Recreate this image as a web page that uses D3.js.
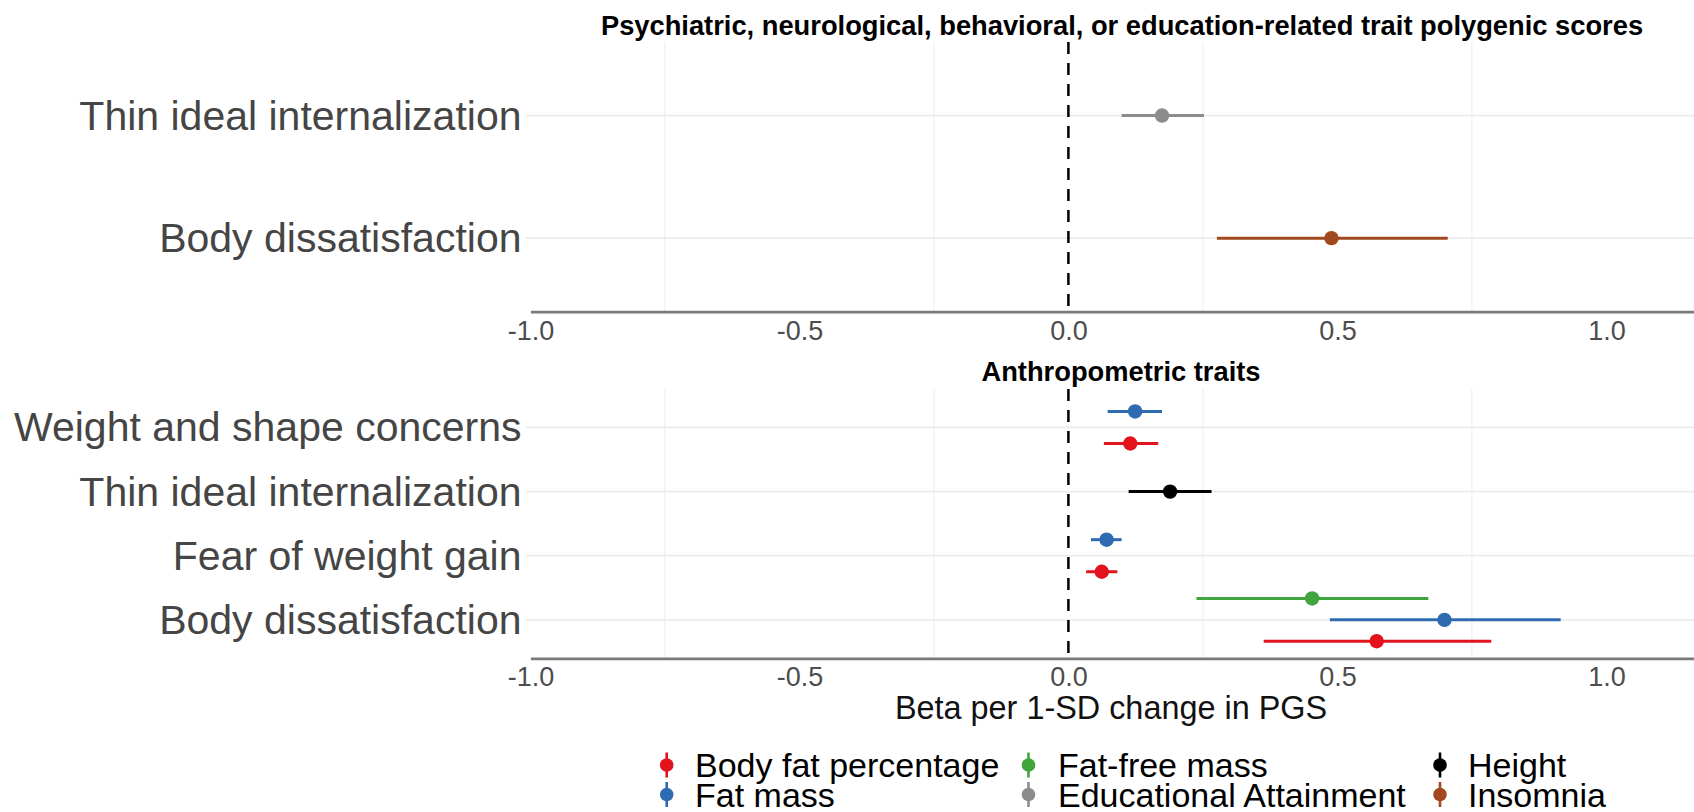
<!DOCTYPE html>
<html>
<head>
<meta charset="utf-8">
<script src="https://cdn.jsdelivr.net/npm/d3@7"></script>
<style>
  html, body { margin: 0; padding: 0; background: #ffffff; }
  svg { display: block; font-family: "Liberation Sans", Arial, Helvetica, sans-serif; }
</style>
</head>
<body>
<svg id="chart" width="1694" height="812"></svg>
<script>
// ---------------- data ----------------
const panelTitles = [
  "Psychiatric, neurological, behavioral, or education-related trait polygenic scores",
  "Anthropometric traits"
];
const topCategories = ["Thin ideal internalization", "Body dissatisfaction"];
const bottomCategories = ["Weight and shape concerns", "Thin ideal internalization", "Fear of weight gain", "Body dissatisfaction"];
const seriesNames = ["Body fat percentage", "Fat mass", "Fat-free mass", "Educational Attainment", "Height", "Insomnia"];
const seriesColors = ["#E3131E", "#2E6BB0", "#3FA53C", "#8C8C8C", "#000000", "#A0491F"];
const xTicks = [-1.0, -0.5, 0.0, 0.5, 1.0];
const xMinorTicks = [-0.75, -0.25, 0.25, 0.75];

// one entry per estimate
const estPanel   = [0, 0, 1, 1, 1, 1, 1, 1, 1, 1];
const estOutcome = ["Thin ideal internalization", "Body dissatisfaction",
                    "Weight and shape concerns", "Weight and shape concerns",
                    "Thin ideal internalization",
                    "Fear of weight gain", "Fear of weight gain",
                    "Body dissatisfaction", "Body dissatisfaction", "Body dissatisfaction"];
const estSeries  = ["Educational Attainment", "Insomnia",
                    "Fat mass", "Body fat percentage",
                    "Height",
                    "Fat mass", "Body fat percentage",
                    "Fat-free mass", "Fat mass", "Body fat percentage"];
const estBeta    = [0.174, 0.489, 0.124, 0.115, 0.189, 0.071, 0.062, 0.453, 0.699, 0.573];
const estLow     = [0.099, 0.276, 0.073, 0.066, 0.112, 0.042, 0.033, 0.238, 0.486, 0.363];
const estHigh    = [0.252, 0.705, 0.174, 0.167, 0.266, 0.099, 0.091, 0.669, 0.915, 0.786];

// ---------------- layout ----------------
const svg = d3.select("#chart");
const xDomain = [-1.0, 1.2];
const x = d3.scaleLinear().domain(xDomain).range([530.4, 1714.0]);
const color = d3.scaleOrdinal().domain(seriesNames).range(seriesColors);

const panels = [
  { title: panelTitles[0], cats: topCategories, top: 42, bottom: 311.7, titleY: 25, titleX: 1122 },
  { title: panelTitles[1], cats: bottomCategories, top: 389, bottom: 658.3, titleY: 371, titleX: 1121 }
];

const rows = estBeta.map((b, i) => ({
  panel: estPanel[i], outcome: estOutcome[i], series: estSeries[i],
  beta: b, low: estLow[i], high: estHigh[i]
}));

panels.forEach((p, pi) => {
  const y = d3.scalePoint().domain(p.cats).range([p.top, p.bottom]).padding(0.6);
  const step = y.step();
  const g = svg.append("g");

  // minor vertical grid
  g.selectAll("line.vminor").data(xMinorTicks).join("line")
    .attr("x1", d => x(d)).attr("x2", d => x(d))
    .attr("y1", p.top).attr("y2", p.bottom)
    .attr("stroke", "#ededed").attr("stroke-width", 1);

  // horizontal grid at categories
  g.selectAll("line.hgrid").data(p.cats).join("line")
    .attr("x1", 526).attr("x2", 1694)
    .attr("y1", d => y(d)).attr("y2", d => y(d))
    .attr("stroke", "#ebebeb").attr("stroke-width", 1.8);

  // category labels
  g.selectAll("text.cat").data(p.cats).join("text")
    .attr("x", 521.5).attr("y", d => y(d))
    .attr("text-anchor", "end").attr("dominant-baseline", "central")
    .attr("font-size", 41).attr("fill", "#454545")
    .text(d => d);

  // zero reference line
  g.append("line")
    .attr("x1", x(0)).attr("x2", x(0))
    .attr("y1", p.top).attr("y2", p.bottom)
    .attr("stroke", "#000").attr("stroke-width", 2.5)
    .attr("stroke-dasharray", "12,9");

  // x axis
  const axis = d3.axisBottom(x).tickValues(xTicks).tickSize(0).tickSizeOuter(0)
    .tickPadding(9).tickFormat(d => d.toFixed(1));
  const ag = g.append("g").attr("transform", `translate(0,${p.bottom})`).call(axis);
  ag.select(".domain").attr("stroke", "#7a7a7a").attr("stroke-width", 2.8);
  ag.selectAll(".tick text").attr("font-size", 27).attr("fill", "#4d4d4d")
    .attr("font-family", "Liberation Sans, Arial, sans-serif");

  // panel title
  g.append("text").attr("x", p.titleX).attr("y", p.titleY)
    .attr("text-anchor", "middle").attr("dominant-baseline", "central")
    .attr("font-size", 27.3).attr("font-weight", "bold").attr("fill", "#000")
    .text(p.title);

  // estimates with dodge
  const pr = rows.filter(r => r.panel === pi);
  const byOutcome = d3.group(pr, r => r.outcome);
  pr.forEach(r => {
    const grp = byOutcome.get(r.outcome).slice()
      .sort((a, b) => seriesNames.indexOf(a.series) - seriesNames.indexOf(b.series));
    const n = grp.length, idx = grp.indexOf(r);
    r.y = y(r.outcome) + ((n - 1) / 2 - idx) * step / n;
  });

  g.selectAll("line.ci").data(pr).join("line")
    .attr("x1", d => x(d.low)).attr("x2", d => x(d.high))
    .attr("y1", d => d.y).attr("y2", d => d.y)
    .attr("stroke", d => color(d.series)).attr("stroke-width", 3);
  g.selectAll("circle.pt").data(pr).join("circle")
    .attr("cx", d => x(d.beta)).attr("cy", d => d.y).attr("r", 7.2)
    .attr("fill", d => color(d.series));
});

// x axis title
svg.append("text").attr("x", 1111).attr("y", 707.5)
  .attr("text-anchor", "middle").attr("dominant-baseline", "central")
  .attr("font-size", 32.4).attr("fill", "#111")
  .text("Beta per 1-SD change in PGS");

// legend (3 columns x 2 rows, filled by column)
const legKeyX = [666.7, 1028.5, 1440];
const legTextX = [695, 1058, 1468];
const legRowY = [765, 794.5];
const leg = svg.append("g");
seriesNames.forEach((s, i) => {
  const col = Math.floor(i / 2), row = i % 2;
  const kx = legKeyX[col], ky = legRowY[row];
  leg.append("line").attr("x1", kx).attr("x2", kx).attr("y1", ky - 12.5).attr("y2", ky + 12.5)
    .attr("stroke", color(s)).attr("stroke-width", 2.6);
  leg.append("circle").attr("cx", kx).attr("cy", ky).attr("r", 6.8).attr("fill", color(s));
  leg.append("text").attr("x", legTextX[col]).attr("y", ky)
    .attr("dominant-baseline", "central").attr("font-size", 34).attr("fill", "#000")
    .text(s);
});
</script>
</body>
</html>
